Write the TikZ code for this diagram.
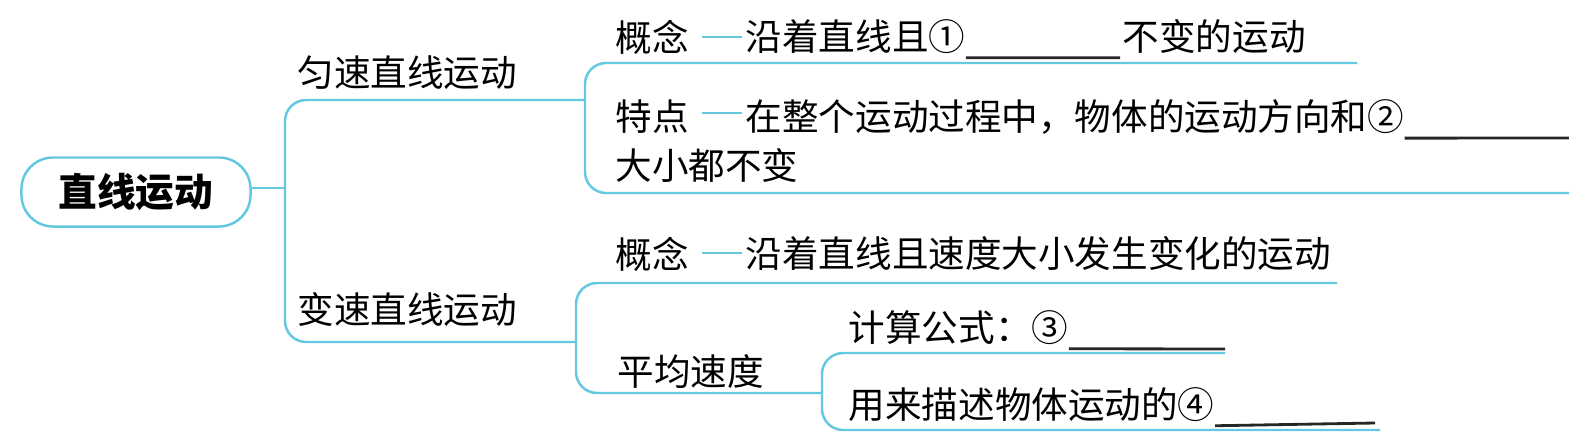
\documentclass[tikz,border=0pt]{standalone}
\usepackage{fontspec}
\newfontfamily\cjk{Noto Sans CJK SC}
\usetikzlibrary{positioning, calc}
\definecolor{lanse}{RGB}{100,200,225}

\begin{document}
\begin{tikzpicture}[x=0.01cm, y=-0.01cm,
    wenzi/.style={inner sep=0pt, anchor=west, font=\cjk\fontsize{10.4}{14}\selectfont},
    zhuxian/.style={draw=lanse, line width=0.7pt, rounded corners=6pt},
    duanxian/.style={draw=lanse, line width=0.7pt},
    kongge/.style={draw=black!85, line width=0.8pt}]

\useasboundingbox (0,0) rectangle (1569,445);

% 中心主题
\node[draw=lanse, line width=0.7pt, rounded corners=9pt, minimum width=2.29cm, minimum height=0.69cm,
      font=\cjk\bfseries\fontsize{11}{14}\selectfont] (zhixian) at (136,192) {直线运动};

% 主干分支
\coordinate (fen) at (285,188);
\coordinate (yunsuj) at (585,100);
\coordinate (biansuj) at (576,342);
\draw[duanxian] (zhixian.east |- fen) -- (fen);
\draw[zhuxian] (yunsuj) -- (285,100) -- (285,342) -- (biansuj);

\node[wenzi] (yunsu) at (297,73) {匀速直线运动};
\node[wenzi] (biansu) at (297,310) {变速直线运动};

% 匀速直线运动 (上)
\draw[zhuxian] (1357,63) -- (585,63) -- (585,193) -- (1569,193);

\node[wenzi] (gainian1) at (615,37) {概念};
\draw[duanxian] (702,37) -- (742,37);
\node[wenzi] (gn1a) at (745,37) {沿着直线且①};
\node[wenzi] (gn1b) at (1122,37) {不变的运动};
\draw[kongge] ($(gn1a.south east)+(0,3)$) -- ($(gn1b.south west)+(-2,3)$);

\node[wenzi] (tedian) at (615,117) {特点};
\draw[duanxian] (702,113) -- (742,113);
\node[wenzi] (td1) at (745,117) {在整个运动过程中，物体的运动方向和②};
\coordinate (tdend) at (1569,117);
\draw[kongge] ($(td1.south east)+(0,3)$) -- ($(tdend)+(0,21)$);
\node[wenzi] (td2) at (615,165) {大小都不变};

% 变速直线运动 (下)
\draw[zhuxian] (1337,283) -- (576,283) -- (576,393) -- (822,393);

\node[wenzi] (gainian2) at (615,254) {概念};
\draw[duanxian] (702,253) -- (742,253);
\node[wenzi] (gn2) at (745,254) {沿着直线且速度大小发生变化的运动};

\node[wenzi] (pingjun) at (617,372) {平均速度};
\draw[zhuxian] (1225,353) -- (822,353) -- (822,430) -- (1380,430);

\node[wenzi] (gongshi) at (848,328) {计算公式：③};
\coordinate (gsend) at (1225,328);
\draw[kongge] ($(gongshi.south east)+(0,3)$) -- ($(gsend)+(0,21)$);

\node[wenzi] (miaoshu) at (848,405) {用来描述物体运动的④};
\coordinate (msend) at (1375,405);
\draw[kongge] ($(miaoshu.south east)+(0,3)$) -- ($(msend)+(0,18)$);

\end{tikzpicture}
\end{document}
